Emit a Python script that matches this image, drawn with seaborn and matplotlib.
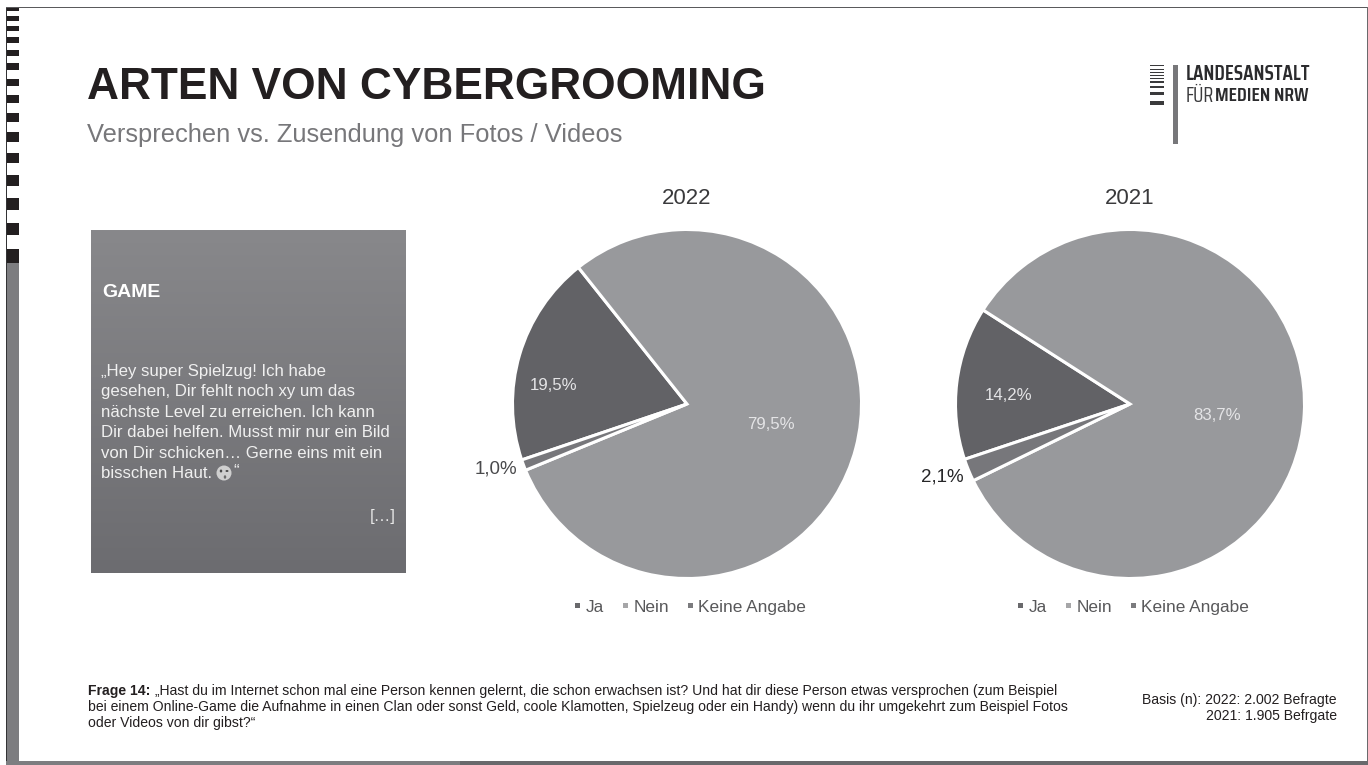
import numpy as np
import matplotlib
matplotlib.use("Agg")
import matplotlib.pyplot as plt
from matplotlib.patches import Rectangle, Circle, Ellipse
import seaborn as sns

W, H = 1368, 765

categories = ["Ja", "Nein", "Keine Angabe"]
values_2022 = [19.5, 79.5, 1.0]
values_2021 = [14.2, 83.7, 2.1]
years = ["2022", "2021"]
title_text = "ARTEN VON CYBERGROOMING"
subtitle_text = "Versprechen vs. Zusendung von Fotos / Videos"
quote_lines = [
    "„Hey super Spielzug! Ich habe",
    "gesehen, Dir fehlt noch xy um das",
    "nächste Level zu erreichen. Ich kann",
    "Dir dabei helfen. Musst mir nur ein Bild",
    "von Dir schicken… Gerne eins mit ein",
    "bisschen Haut.",
]
question_lines = [
    "„Hast du im Internet schon mal eine Person kennen gelernt, die schon erwachsen ist? Und hat dir diese Person etwas versprochen (zum Beispiel",
    "bei einem Online-Game die Aufnahme in einen Clan oder sonst Geld, coole Klamotten, Spielzeug oder ein Handy) wenn du ihr umgekehrt zum Beispiel Fotos",
    "oder Videos von dir gibst?“",
]
basis_lines = ["Basis (n): 2022: 2.002 Befragte", "2021: 1.905 Befrgate"]

sns.set_theme(style="white", rc={"axes.grid": False})
plt.rcParams["font.family"] = ["Liberation Sans", "DejaVu Sans"]
pie_colors = sns.color_palette(["#626266", "#98999c", "#77777b"])
legend_colors = sns.color_palette(["#69696c", "#a6a6a8", "#7b7b7e"])

fig = plt.figure(figsize=(W / 100, H / 100), dpi=100, facecolor="white")

# page furniture is laid out on a pixel-sized canvas
page = fig.add_axes([0, 0, 1, 1], zorder=0)
page.set_xlim(0, W)
page.set_ylim(H, 0)
page.axis("off")

# a second canvas above the pies carries their value labels
overlay = fig.add_axes([0, 0, 1, 1], zorder=3)
overlay.set_xlim(0, W)
overlay.set_ylim(H, 0)
overlay.axis("off")
overlay.patch.set_alpha(0)


def block(ax, x0, y0, x1, y1, color, z=2):
    ax.add_patch(Rectangle((x0, y0), x1 - x0, y1 - y0, fc=color, ec="none", zorder=z))


# binder-like stripe column on the left edge
stripes = [(7, 11), (16, 21), (26, 31), (37, 43), (50, 56), (63, 70), (79, 86), (95, 103),
           (113, 122), (132, 142), (153, 163), (175, 186), (198, 210), (223, 235), (249, 263)]
for top, bottom in stripes:
    block(page, 6, top, 19, bottom, "#231f20")
block(page, 6, 263, 19, H, "#7d7d80")
block(page, 6, 7, 7, H, "#333335")
block(page, 6, 7, W, 8, "#5a5a5c")
block(page, 1366.5, 7, W, H, "#6a6a6c")
block(page, 6, 760.5, 460, H, "#7d7d80")
block(page, 460, 760.5, W, H, "#69696c")

# headline
page.text(87, 87, title_text, fontsize=31.9, fontweight="bold", color="#231f20", va="center", ha="left")
page.text(87, 134.5, subtitle_text, fontsize=18.4, color="#77777a", va="center", ha="left")

# logo
logo_rows = [(65.5, 1), (69, 1), (72.5, 1), (75.5, 1.3), (78.5, 1.6), (82, 2), (87, 2.6), (93, 3), (102.5, 4)]
for y, h in logo_rows:
    block(page, 1150, y - h / 2, 1164, y + h / 2, "#3a3a3c")
block(page, 1173, 65, 1177.5, 144, "#77777a")
narrow = ["Saira Condensed", "Liberation Sans"]
page.text(1186, 74, "LANDESANSTALT", family=narrow, fontsize=15.1, fontweight=600,
          color="#2b2b2d", va="center", ha="left")
page.text(1186, 96, "FÜR", family=narrow, fontsize=14.5, fontweight=400, color="#3a3a3c", va="center", ha="left")
page.text(1215, 96, "MEDIEN NRW", family=narrow, fontsize=14.3, fontweight=600,
          color="#2b2b2d", va="center", ha="left")

# quote panel with a soft vertical gradient
panel_cmap = sns.blend_palette(["#88888b", "#6c6c70"], as_cmap=True)
shade = np.linspace(0, 1, 256).reshape(-1, 1)
page.imshow(shade, cmap=panel_cmap, vmin=0, vmax=1, extent=(91, 406, 573, 230), aspect="auto", zorder=1)
page.set_xlim(0, W)
page.set_ylim(H, 0)
page.text(102, 292, "GAME", fontsize=14, fontweight="bold", color="white", va="center", ha="left", zorder=3)
for y, line in zip([371, 391.5, 412, 432.5, 453, 473.5], quote_lines):
    page.text(101, y, line, fontsize=12.1, color="#f0f0f0", va="center", ha="left", zorder=3)
page.add_patch(Circle((224, 473), 7.5, fc="#cfcfcf", ec="none", zorder=3))
page.add_patch(Ellipse((221, 471), 2.5, 3, fc="#4a4a4a", ec="none", zorder=4))
page.add_patch(Ellipse((227, 471), 3, 2, fc="#4a4a4a", ec="none", zorder=4))
page.add_patch(Ellipse((225, 477), 2.5, 3.5, fc="#6a6a6a", ec="none", zorder=4))
page.text(233, 471, "“", fontsize=12.1, color="#f0f0f0", va="center", ha="left", zorder=3)
page.text(396, 516, "[…]", fontsize=12.1, color="#e8e8e8", va="center", ha="right", zorder=3)


def pct(v):
    return f"{v:.1f}%".replace(".", ",")


def draw_pie(cx, cy, r, values, year, start, legend_anchor, label_xy, outer_color):
    ax = fig.add_axes([(cx - r) / W, 1 - (cy + r) / H, 2 * r / W, 2 * r / H], zorder=2)
    ax.patch.set_alpha(0)
    ax.pie(values, colors=pie_colors, startangle=start, counterclock=False, radius=1,
           wedgeprops={"edgecolor": "white", "linewidth": 2.2})
    ax.set_xlim(-1, 1)
    ax.set_ylim(-1, 1)
    page.text(cx, 198.5, year, fontsize=16, color="#3a3a3c", ha="center", va="center")
    styles = [("#e4e4e6", 12.1), ("#e4e4e6", 12.1), (outer_color, 13.5)]
    for (x, y), v, (col, fs) in zip(label_xy, values, styles):
        overlay.text(x, y, pct(v), fontsize=fs, color=col, ha="center", va="center")
    handles = [Rectangle((0, 0), 1, 1, fc=c, ec="none") for c in legend_colors]
    fig.legend(handles, categories, loc="center", bbox_to_anchor=(legend_anchor / W, 1 - 607.5 / H),
               ncol=3, frameon=False, fontsize=12.4, labelcolor="#58585a", handlelength=0.32,
               handleheight=0.1, handletextpad=0.3, columnspacing=1.1)


draw_pie(687, 404, 174.5, values_2022, years[0], 198.7, 690.5,
         [(554, 385), (771, 424), (496, 469)], "#4a4a4c")
draw_pie(1130, 404, 174.5, values_2021, years[1], 198.5, 1133.5,
         [(1009, 395), (1217, 415), (942.5, 477)], "#262628")

# question wording and sample sizes
note_size = 10.1
page.text(88, 691, "Frage 14:", fontsize=note_size, fontweight="bold", color="#231f20", va="center", ha="left")
page.text(155, 691, question_lines[0], fontsize=note_size, color="#231f20", va="center", ha="left")
page.text(88, 707, question_lines[1], fontsize=note_size, color="#231f20", va="center", ha="left")
page.text(88, 722.5, question_lines[2], fontsize=note_size, color="#231f20", va="center", ha="left")
page.text(1337, 700, basis_lines[0], fontsize=note_size, color="#231f20", va="center", ha="right")
page.text(1337, 716, basis_lines[1], fontsize=note_size, color="#231f20", va="center", ha="right")

fig.savefig("out.png", dpi=100, facecolor="white")
